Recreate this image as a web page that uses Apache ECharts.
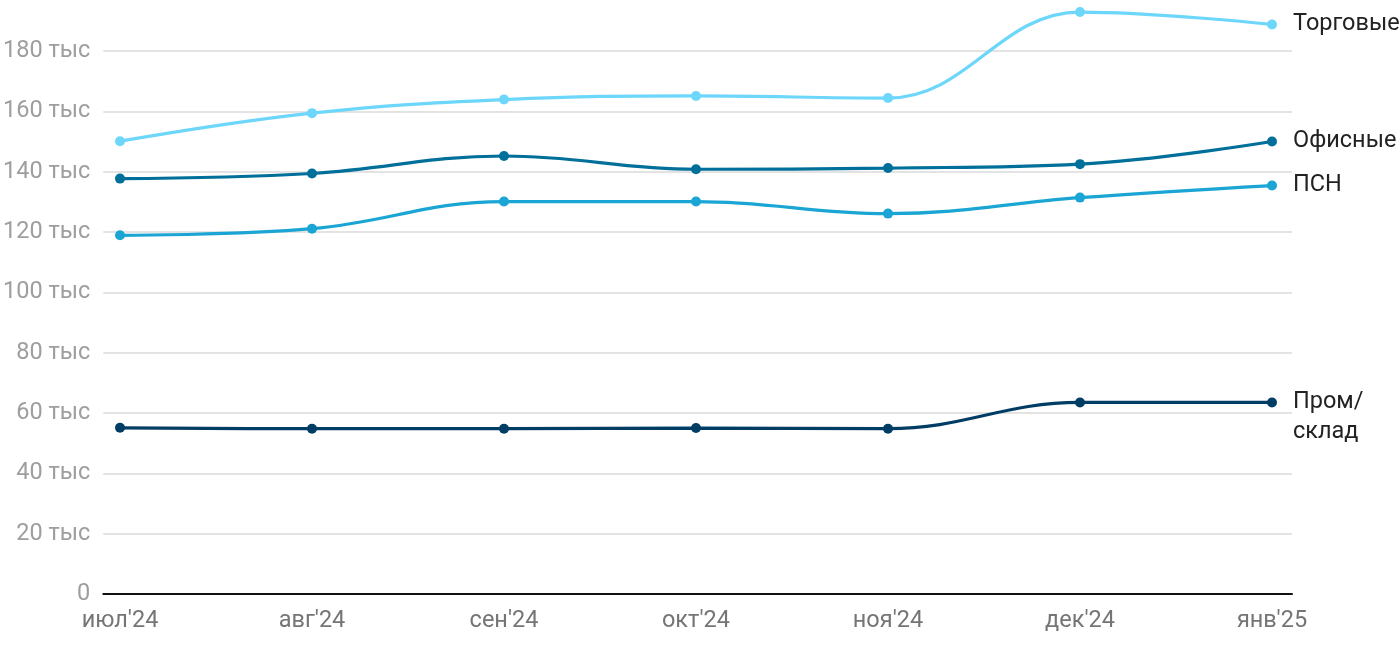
<!DOCTYPE html>
<html><head><meta charset="utf-8">
<script src="https://cdn.jsdelivr.net/npm/echarts@6/dist/echarts.min.js"></script>
<style>html,body{margin:0;padding:0;background:#fff}#c{width:1400px;height:650px}</style>
</head><body><div id="c"></div>
<script>
const categories = ["июл'24","авг'24","сен'24","окт'24","ноя'24","дек'24","янв'25"];
const seriesNames = ["Торговые","Офисные","ПСН","Пром/\nсклад"];
const trade = [150.1, 159.4, 163.9, 165.1, 164.4, 192.9, 188.8];
const office = [137.7, 139.4, 145.2, 140.8, 141.2, 142.5, 150.0];
const psn = [118.9, 121.1, 130.1, 130.1, 126.1, 131.4, 135.4];
const warehouse = [55.1, 54.8, 54.8, 55.0, 54.8, 63.5, 63.5];
const yTicks = [0, 20, 40, 60, 80, 100, 120, 140, 160, 180];
const colors = ["#6dd6fb", "#00709a", "#1aa5d4", "#003d64"];

const chart = echarts.init(document.getElementById('c'));
const mk = (name, data, color, off) => ({
  type: 'line', name, data: data.map(v => v * 1000), xAxisIndex: 0, yAxisIndex: 0,
  smooth: 0.4, symbol: 'circle', symbolSize: 10, clip: false,
  lineStyle: { width: 3.2, color }, itemStyle: { color },
  endLabel: { show: true, formatter: name, color: '#222', fontSize: 23.5, fontFamily: 'Roboto',
    distance: 21, offset: off || [0, 0], lineHeight: 30 },
  animation: false
});
chart.setOption({
  animation: false,
  grid: [
    { left: 120, right: 128, top: 51, bottom: 56, containLabel: false },
    { left: 100, right: 108, top: 51, bottom: 56, containLabel: false }
  ],
  xAxis: [
    { type: 'category', gridIndex: 0, data: categories, boundaryGap: false,
      axisLine: { show: false }, axisTick: { show: false }, splitLine: { show: false },
      axisLabel: { color: '#757575', fontSize: 23.5, fontFamily: 'Roboto', margin: 15 } },
    { type: 'value', gridIndex: 1, min: 0, max: 1, position: 'bottom',
      axisLine: { show: true, lineStyle: { color: '#111', width: 2 } }, axisTick: { show: false },
      axisLabel: { show: false }, splitLine: { show: false } }
  ],
  yAxis: [
    { type: 'value', gridIndex: 0, min: 0, max: 180000, interval: 20000, show: false, splitLine: { show: false } },
    { type: 'value', gridIndex: 1, min: 0, max: 180000, interval: 20000,
      axisLine: { show: false }, axisTick: { show: false },
      splitLine: { show: true, lineStyle: { color: '#e3e3e3', width: 2 } },
      axisLabel: { color: '#9e9e9e', fontSize: 23.5, fontFamily: 'Roboto', margin: 13,
        formatter: v => { const k = v / 1000; return yTicks.includes(k) ? (k === 0 ? '0' : k + ' тыс') : ''; } } }
  ],
  series: [
    mk(seriesNames[3], warehouse, colors[3], [0, 15]),
    mk(seriesNames[2], psn, colors[2]),
    mk(seriesNames[1], office, colors[1]),
    mk(seriesNames[0], trade, colors[0])
  ]
});
</script></body></html>
